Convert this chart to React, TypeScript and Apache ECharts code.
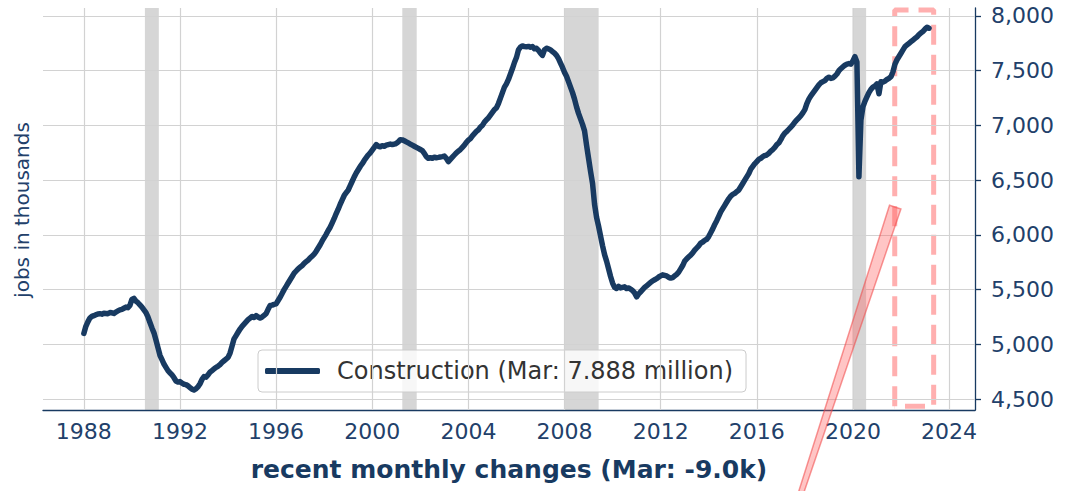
import React, { useEffect, useRef } from 'react';
import * as echarts from 'echarts';

// Monthly construction employment (thousands), Jan 1988 – Mar 2023
const startYear = 1988;
const jobs1988to1993 = [
  5100, 5165, 5205, 5240, 5255, 5262, 5270, 5278, 5280, 5276, 5284, 5282,
  5280, 5290, 5288, 5282, 5295, 5305, 5315, 5320, 5330, 5340, 5335, 5355,
  5410, 5420, 5395, 5380, 5360, 5340, 5315, 5290, 5250, 5200, 5150, 5105,
  5040, 4970, 4900, 4860, 4820, 4790, 4760, 4740, 4720, 4695, 4665, 4655,
  4660, 4645, 4635, 4632, 4620, 4605, 4590, 4582, 4595, 4612, 4640, 4680,
  4705, 4700, 4720, 4745, 4760, 4775, 4790, 4800, 4815, 4835, 4850, 4865,
];
const jobs1994to1999 = [
  4880, 4920, 4985, 5050, 5080, 5110, 5140, 5165, 5185, 5205, 5225, 5240,
  5255, 5245, 5262, 5250, 5240, 5250, 5265, 5280, 5320, 5355, 5358, 5365,
  5370, 5400, 5430, 5465, 5500, 5530, 5560, 5590, 5620, 5650, 5670, 5690,
  5705, 5720, 5740, 5755, 5770, 5790, 5805, 5825, 5850, 5880, 5910, 5945,
  5975, 6005, 6040, 6070, 6110, 6150, 6195, 6235, 6280, 6320, 6360, 6385,
  6410, 6450, 6490, 6530, 6565, 6595, 6625, 6650, 6680, 6705, 6730, 6750,
];
const jobs2000to2005 = [
  6775, 6800, 6825, 6810, 6805, 6815, 6810, 6820, 6825, 6830, 6825, 6830,
  6835, 6850, 6870, 6868, 6860, 6850, 6840, 6830, 6820, 6810, 6800, 6790,
  6780, 6770, 6745, 6715, 6700, 6705, 6700, 6710, 6705, 6708, 6712, 6715,
  6720, 6700, 6670, 6690, 6710, 6730, 6750, 6765, 6780, 6800, 6820, 6845,
  6865, 6880, 6905, 6925, 6945, 6960, 6985, 7000, 7030, 7050, 7070, 7095,
  7120, 7145, 7160, 7200, 7250, 7300, 7350, 7380, 7420, 7470, 7520, 7575,
];
const jobs2006to2011 = [
  7620, 7690, 7715, 7726, 7720, 7718, 7722, 7715, 7720, 7700, 7705, 7685,
  7660, 7640, 7690, 7705, 7700, 7690, 7675, 7660, 7640, 7610, 7570, 7530,
  7485, 7450, 7400, 7350, 7300, 7240, 7170, 7110, 7060, 7010, 6950, 6820,
  6700, 6580, 6470, 6280, 6160, 6080, 5990, 5900, 5820, 5760, 5690, 5620,
  5560, 5520, 5510, 5530, 5515, 5520, 5525, 5510, 5515, 5505, 5490, 5470,
  5434, 5460, 5480, 5500, 5520, 5535, 5550, 5565, 5580, 5590, 5600, 5615,
];
const jobs2012to2017 = [
  5625, 5635, 5630, 5625, 5612, 5605, 5610, 5625, 5640, 5660, 5690, 5720,
  5760, 5780, 5800, 5815, 5835, 5860, 5880, 5900, 5925, 5935, 5950, 5960,
  5985, 6020, 6055, 6095, 6130, 6170, 6210, 6240, 6270, 6300, 6330, 6355,
  6370, 6380, 6395, 6410, 6440, 6470, 6500, 6530, 6560, 6600, 6625, 6650,
  6670, 6690, 6700, 6715, 6725, 6730, 6745, 6765, 6780, 6800, 6825, 6840,
  6870, 6905, 6930, 6945, 6965, 6985, 7005, 7030, 7050, 7070, 7090, 7115,
];
const jobs2018to2023 = [
  7145, 7200, 7240, 7270, 7295, 7320, 7345, 7370, 7390, 7400, 7410, 7430,
  7440, 7430, 7435, 7450, 7470, 7500, 7520, 7535, 7550, 7560, 7565, 7560,
  7590, 7628, 7580, 6531, 7050, 7170, 7220, 7260, 7300, 7330, 7350, 7360,
  7380, 7290, 7400, 7395, 7405, 7420, 7430, 7445, 7490, 7560, 7600, 7630,
  7660, 7690, 7720, 7735, 7750, 7765, 7780, 7795, 7810, 7830, 7845, 7860,
  7880, 7897, 7888,
];

const xTicks = [1988, 1992, 1996, 2000, 2004, 2008, 2012, 2016, 2020, 2024];
const yTicks = [4500, 5000, 5500, 6000, 6500, 7000, 7500, 8000];
const recessions = [
  [1990.54, 1991.12],
  [2001.25, 2001.85],
  [2008.0, 2009.42],
  [2019.98, 2020.55],
];
const highlightX = [2021.74, 2023.36];
const highlightY = [4435, 8055];
const arrowTail = [2017.7, 3550];
const arrowTip = [2021.76, 6254];

const seriesName = 'Construction (Mar: 7.888 million)';
const xTitle = 'recent monthly changes (Mar: -9.0k)';
const yTitle = 'jobs in thousands';

const NAVY = '#183a61';
const LABEL = '#22406a';

export default function App() {
  const ref = useRef<HTMLDivElement>(null);
  useEffect(() => {
    if (!ref.current) return;
    const chart = echarts.init(ref.current, null, { renderer: 'svg' });
    const all = [
      ...jobs1988to1993,
      ...jobs1994to1999,
      ...jobs2000to2005,
      ...jobs2006to2011,
      ...jobs2012to2017,
      ...jobs2018to2023,
    ];
    const data = all.map((v, i) => [startYear + i / 12, v]);
    const box = [
      [highlightX[0], highlightY[0]],
      [highlightX[0], highlightY[1]],
      [highlightX[1], highlightY[1]],
      [highlightX[1], highlightY[0]],
      [highlightX[0], highlightY[0]],
    ];
    chart.setOption({
      animation: false,
      textStyle: { fontFamily: 'DejaVu Sans' },
      grid: { left: 43, right: 90, top: 8, bottom: 81, containLabel: false, outerBoundsMode: 'none' },
      legend: {
        data: [{ name: seriesName, icon: 'roundRect' }],
        left: 258,
        top: 350,
        padding: [9, 13, 9, 7],
        itemWidth: 55,
        itemHeight: 6,
        itemStyle: { color: NAVY },
        backgroundColor: 'rgba(255,255,255,0.8)',
        borderColor: '#cccccc',
        borderWidth: 1,
        borderRadius: 4,
        textStyle: { fontSize: 24, color: '#333333', padding: [0, 0, 0, 12] },
      },
      xAxis: {
        type: 'value',
        min: 1986.3,
        max: 2025.08,
        splitLine: { show: false },
        axisTick: { show: false },
        axisLine: { show: true, onZero: false, lineStyle: { color: NAVY, width: 1.3 } },
        axisLabel: {
          customValues: xTicks,
          fontSize: 22,
          color: LABEL,
          margin: 10,
          formatter: (v: number) => String(Math.round(v)),
        },
        name: xTitle,
        nameLocation: 'middle',
        nameGap: 47,
        nameTextStyle: { fontSize: 25, fontWeight: 'bold', color: NAVY },
      },
      yAxis: {
        type: 'value',
        position: 'right',
        min: 4400,
        max: 8073,
        splitLine: { show: false },
        axisLine: { show: true, onZero: false, lineStyle: { color: NAVY, width: 1.3 } },
        axisTick: { show: true, customValues: yTicks, length: 6, lineStyle: { color: NAVY, width: 1.3 } },
        axisLabel: {
          customValues: yTicks,
          fontSize: 22,
          color: LABEL,
          margin: 16,
          formatter: (v: number) => Math.round(v).toLocaleString('en-US'),
        },
      },
      series: [
        {
          name: 'grid',
          type: 'line',
          data: [],
          symbol: 'none',
          z: 1,
          silent: true,
          markLine: {
            silent: true,
            symbol: ['none', 'none'],
            label: { show: false },
            lineStyle: { color: '#d2d2d2', width: 1.2, type: 'solid' },
            data: [
              ...xTicks.map((v) => ({ xAxis: v })),
              ...yTicks.map((v) => ({ yAxis: v })),
            ],
          },
          markArea: {
            silent: true,
            itemStyle: { color: 'rgba(128,128,128,0.32)' },
            data: recessions.map(([a, b]) => [{ xAxis: a }, { xAxis: b }]),
          },
        },
        {
          name: 'highlight',
          type: 'line',
          data: box,
          symbol: 'none',
          clip: false,
          z: 3,
          silent: true,
          lineStyle: { color: 'rgba(255,110,110,0.55)', width: 5, type: [20, 10] },
        },
        {
          name: seriesName,
          type: 'line',
          data,
          symbol: 'none',
          showSymbol: false,
          z: 5,
          lineStyle: { color: NAVY, width: 5.5, cap: 'round', join: 'round' },
          itemStyle: { color: NAVY },
        },
      ],
    });
    const p0 = chart.convertToPixel({ gridIndex: 0 }, arrowTail) as number[];
    const p1 = chart.convertToPixel({ gridIndex: 0 }, arrowTip) as number[];
    const dx = p1[0] - p0[0];
    const dy = p1[1] - p0[1];
    const len = Math.sqrt(dx * dx + dy * dy);
    const nx = -dy / len;
    const ny = dx / len;
    const wt = 2.5;
    const wh = 6;
    chart.setOption({
      graphic: [
        {
          type: 'polygon',
          z: 100,
          silent: true,
          shape: {
            points: [
              [p0[0] + nx * wt, p0[1] + ny * wt],
              [p1[0] + nx * wh, p1[1] + ny * wh],
              [p1[0] - nx * wh, p1[1] - ny * wh],
              [p0[0] - nx * wt, p0[1] - ny * wt],
            ],
          },
          style: { fill: 'rgba(255,90,90,0.35)', stroke: 'rgba(240,70,70,0.55)', lineWidth: 1.5 },
        },
        {
          type: 'text',
          x: 22,
          y: 210,
          rotation: Math.PI / 2,
          silent: true,
          style: {
            text: yTitle,
            fontSize: 20,
            fontFamily: 'DejaVu Sans',
            fill: LABEL,
            align: 'center',
            verticalAlign: 'middle',
          },
        },
      ],
    });
    return () => chart.dispose();
  }, []);
  return (
    <div
      ref={ref}
      style={{ position: 'fixed', left: 0, top: 0, width: 1065, height: 491, background: '#fff' }}
    />
  );
}
